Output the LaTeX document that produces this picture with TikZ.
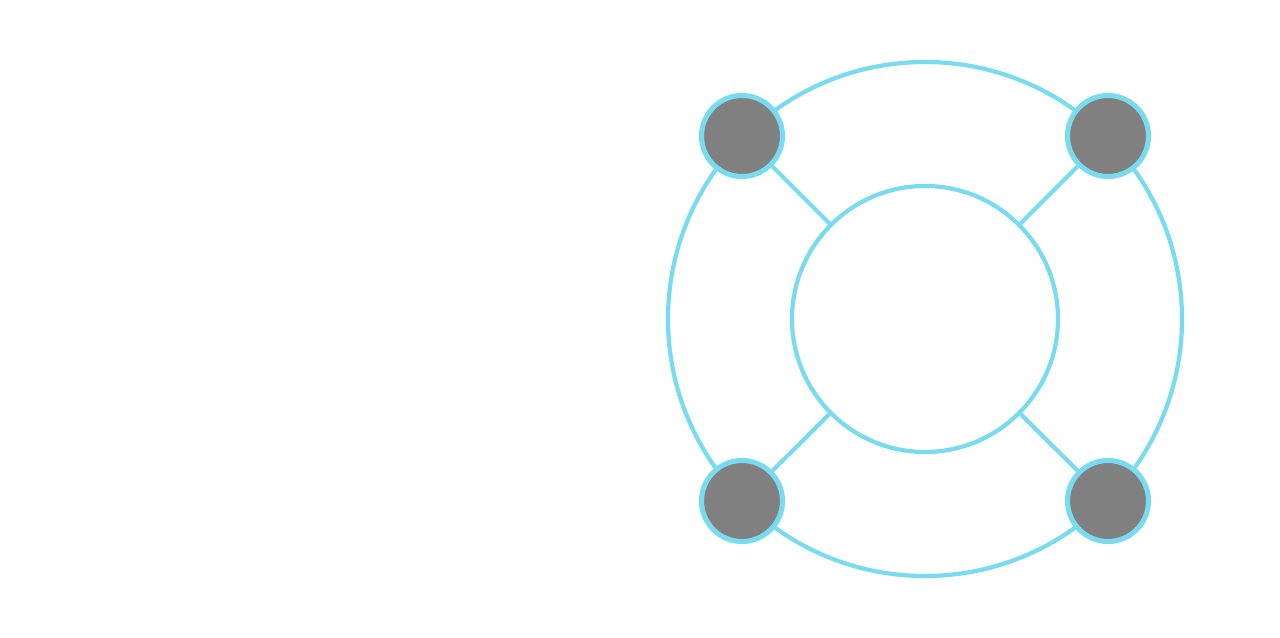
\documentclass[tikz,border=0pt]{standalone}
\usepackage{tikz}
\definecolor{ringblue}{HTML}{78DBEF}
\definecolor{knobgray}{HTML}{808080}
\tikzstyle{ring} = [circle, draw=ringblue, line width=2.4pt, inner sep=0pt]
\tikzstyle{knob} = [circle, draw=ringblue, fill=knobgray, line width=2.9pt, inner sep=0pt, minimum size=1.62cm]

\begin{document}
\begin{tikzpicture}
  \useasboundingbox (0,0) rectangle (25.6,12.76);
  \node (rim) at (18.5,6.38) [ring, minimum size=10.28cm] {};
  \node (hub) at (18.5,6.38) [ring, minimum size=5.32cm] {};
  \node (nw) at (14.84,10.04) [knob] {};
  \node (ne) at (22.16,10.04) [knob] {};
  \node (sw) at (14.84,2.74) [knob] {};
  \node (se) at (22.16,2.74) [knob] {};
  \draw [ringblue, line width=2.4pt] (nw) to (hub);
  \draw [ringblue, line width=2.4pt] (ne) to (hub);
  \draw [ringblue, line width=2.4pt] (sw) to (hub);
  \draw [ringblue, line width=2.4pt] (se) to (hub);
\end{tikzpicture}
\end{document}
